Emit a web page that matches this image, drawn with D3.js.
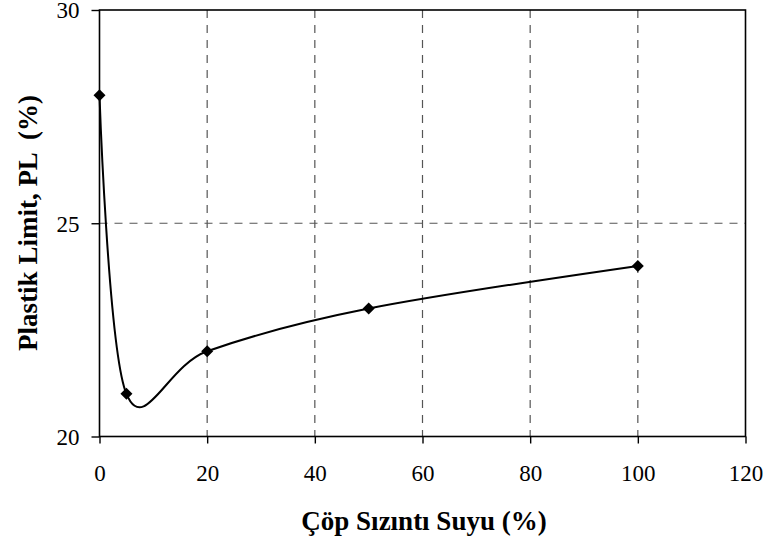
<!DOCTYPE html>
<html>
<head>
<meta charset="utf-8">
<script src="https://cdn.jsdelivr.net/npm/d3@7"></script>
<style>
  html, body { margin: 0; padding: 0; background: #fff; }
  svg { display: block; }
</style>
</head>
<body>
<svg id="chart" width="768" height="548"></svg>
<script>
const leachatePct = [0, 5, 20, 50, 100];
const plasticLimit = [28, 21, 22, 23, 24];
const xTickValues = [0, 20, 40, 60, 80, 100, 120];
const yTickValues = [20, 25, 30];
const xTitle = "Çöp Sızıntı Suyu (%)";
const yTitle = "Plastik Limit, PL  (%)";

const svg = d3.select("#chart");
const L = 99.5, R = 745.5, T = 10, B = 436.5;
const x = d3.scaleLinear().domain([0, 120]).range([L, R]);
const y = d3.scaleLinear().domain([20, 30]).range([B, T]);
const font = "'Liberation Serif', 'Times New Roman', serif";

// gridlines
svg.append("g").selectAll("line.vx").data(xTickValues.filter(d => d > 0 && d < 120))
  .join("line")
  .attr("x1", d => x(d)).attr("x2", d => x(d))
  .attr("y1", T).attr("y2", B)
  .attr("stroke", "#555").attr("stroke-width", 1.2)
  .attr("stroke-dasharray", "8,7");
svg.append("g").selectAll("line.hy").data(yTickValues.filter(d => d > 20 && d < 30))
  .join("line")
  .attr("x1", L).attr("x2", R)
  .attr("y1", d => y(d)).attr("y2", d => y(d))
  .attr("stroke", "#555").attr("stroke-width", 1.2)
  .attr("stroke-dasharray", "8,7");

// frame
svg.append("rect").attr("x", L).attr("y", T).attr("width", R - L).attr("height", B - T)
  .attr("fill", "none").attr("stroke", "#000").attr("stroke-width", 1.6);

// axes
const xAxis = svg.append("g").attr("transform", `translate(0,${B})`)
  .call(d3.axisBottom(x).tickValues(xTickValues).tickSize(7).tickSizeOuter(0).tickPadding(21).tickFormat(d3.format("d")));
const yAxis = svg.append("g").attr("transform", `translate(${L},0)`)
  .call(d3.axisLeft(y).tickValues(yTickValues).tickSize(8).tickSizeOuter(0).tickPadding(12).tickFormat(d3.format("d")));
[xAxis, yAxis].forEach(a => {
  a.select(".domain").remove();
  a.selectAll(".tick line").attr("stroke", "#000").attr("stroke-width", 1.4);
  a.selectAll("text").attr("font-family", font).attr("font-size", 23).attr("fill", "#000");
});
yAxis.selectAll("text").attr("dy", "0.34em");

// curve
const pts = leachatePct.map((d, i) => [x(d), y(plasticLimit[i])]);
svg.append("path").datum(pts)
  .attr("d", d3.line().curve(d3.curveCardinal.tension(0)))
  .attr("fill", "none").attr("stroke", "#000").attr("stroke-width", 2);

// markers
svg.append("g").selectAll("path").data(pts).join("path")
  .attr("d", d3.symbol().type(d3.symbolSquare).size(72))
  .attr("transform", d => `translate(${d[0]},${d[1]}) rotate(45)`)
  .attr("fill", "#000");

// titles
svg.append("text").attr("x", 424).attr("y", 530)
  .attr("text-anchor", "middle").attr("font-family", font).attr("font-weight", "bold")
  .attr("font-size", 27).text(xTitle);
svg.append("text").attr("transform", "translate(37,223) rotate(-90)")
  .attr("text-anchor", "middle").attr("font-family", font).attr("font-weight", "bold")
  .attr("font-size", 27).style("white-space", "pre").text(yTitle);
</script>
</body>
</html>
